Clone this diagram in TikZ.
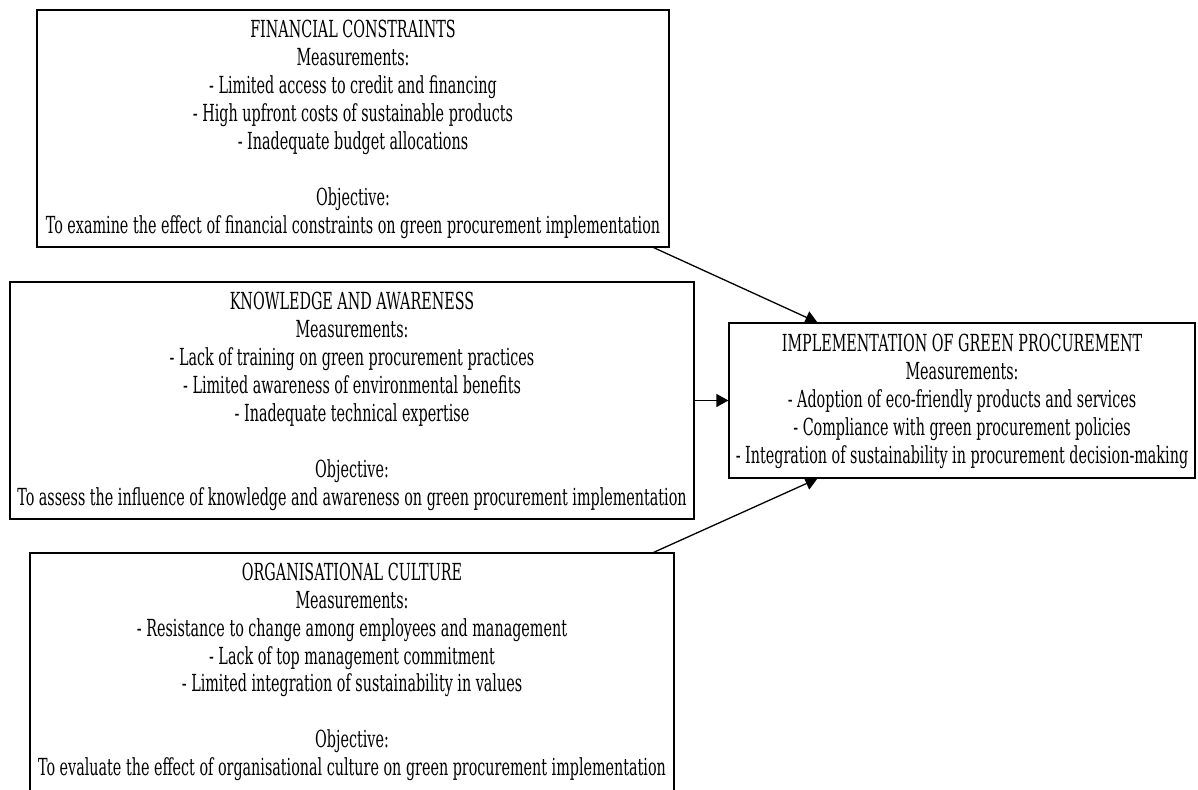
\documentclass[tikz,border=0pt]{standalone}
\usepackage{fontspec}
\setmainfont{DejaVu Serif}[FakeStretch=0.61]
\usetikzlibrary{arrows.meta,calc}
\begin{document}
\begin{tikzpicture}[x=1pt,y=1pt,
  box/.style={draw,line width=1.2pt,rectangle,inner sep=0pt},
  txt/.style={align=center,font=\fontsize{23.5}{27.9}\selectfont,inner sep=0pt},
  conn/.style={line width=1.3pt,-{Triangle[length=12pt,width=13pt]}}]
\useasboundingbox (0,0) rectangle (1198,789);
\node[box,minimum width=632pt,minimum height=237pt] (fin) at (353,660.5) {};
\node[txt] (fint) at ($(fin.center)+(0,-1)$) {FINANCIAL CONSTRAINTS\\Measurements:\\- Limited access to credit and financing\\- High upfront costs of sustainable products\\- Inadequate budget allocations\\ \\Objective:\\To examine the effect of financial constraints on green procurement implementation};
\node[box,minimum width=684pt,minimum height=237pt] (kn) at (352,388.5) {};
\node[txt] (knt) at ($(kn.center)+(0,-1)$) {KNOWLEDGE AND AWARENESS\\Measurements:\\- Lack of training on green procurement practices\\- Limited awareness of environmental benefits\\- Inadequate technical expertise\\ \\Objective:\\To assess the influence of knowledge and awareness on green procurement implementation};
\node[box,minimum width=644pt,minimum height=242pt] (org) at (352,115) {};
\node[txt] (orgt) at ($(org.north)+(0,-119.5)$) {ORGANISATIONAL CULTURE\\Measurements:\\- Resistance to change among employees and management\\- Lack of top management commitment\\- Limited integration of sustainability in values\\ \\Objective:\\To evaluate the effect of organisational culture on green procurement implementation};
\node[box,minimum width=466pt,minimum height=155pt] (imp) at (962,388.5) {};
\node[txt] (impt) at ($(imp.center)+(0,-1)$) {IMPLEMENTATION OF GREEN PROCUREMENT\\Measurements:\\- Adoption of eco-friendly products and services\\- Compliance with green procurement policies\\- Integration of sustainability in procurement decision-making};
\draw[conn] ($(fin.south east)+(-16,0)$) -- ($(imp.north west)+(89,0)$);
\draw[conn] (kn.east) -- (imp.west);
\draw[conn] ($(org.north east)+(-21,0)$) -- ($(imp.south west)+(89,0)$);
\end{tikzpicture}
\end{document}
